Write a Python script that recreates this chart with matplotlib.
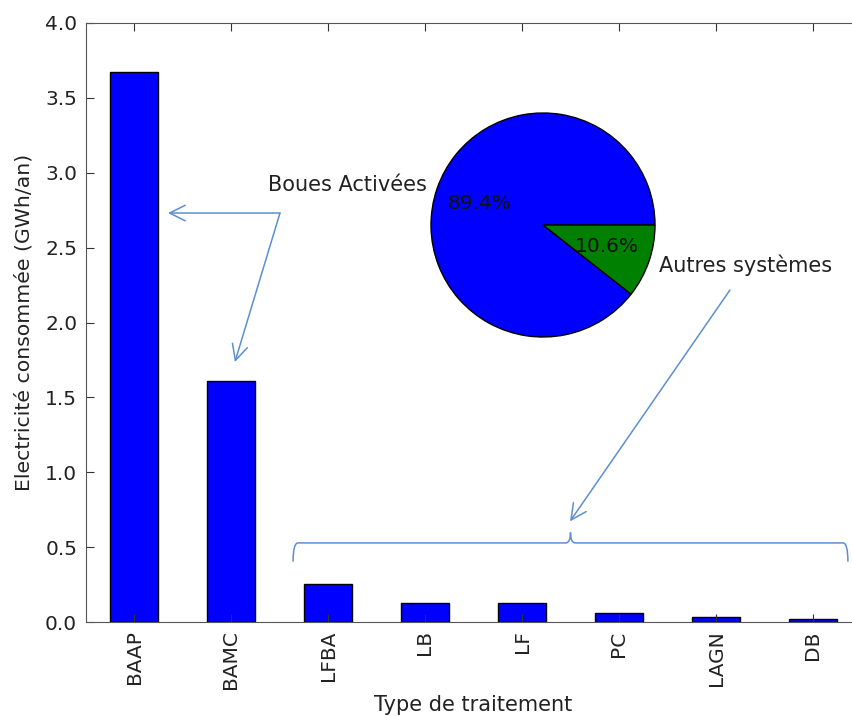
import matplotlib
matplotlib.use('Agg')
import matplotlib.pyplot as plt
from matplotlib.path import Path
from matplotlib.patches import PathPatch

# consommation electrique par type de traitement (GWh/an)
types = ['BAAP', 'BAMC', 'LFBA', 'LB', 'LF', 'PC', 'LAGN', 'DB']
conso = [3.673, 1.609, 0.255, 0.128, 0.127, 0.062, 0.033, 0.021]
n_boues = 2  # BAAP et BAMC = boues activees

pie_labels = ['Boues Activées', 'Autres systèmes']
pie_vals = [sum(conso[:n_boues]), sum(conso[n_boues:])]

arrow_col = '#5b8fd0'
fs_tick = 14.5
fs_lab = 15

plt.rcParams['font.family'] = 'DejaVu Sans'

fig = plt.figure(figsize=(8.52, 7.16), dpi=100)
ax = fig.add_axes([85.5 / 852, 94 / 716, 776 / 852, 599 / 716])

x = list(range(len(types)))
ax.bar(x, conso, width=0.5, color='b', edgecolor='k', linewidth=1)
ax.set_xlim(-0.5, len(types) - 0.5)
ax.set_ylim(0, 4.0)
ax.set_xticks(x)
ax.set_xticklabels(types, rotation=90)
ax.set_yticks([0, 0.5, 1.0, 1.5, 2.0, 2.5, 3.0, 3.5, 4.0])
ax.set_yticklabels(['%.1f' % v for v in ax.get_yticks()])
ax.tick_params(direction='in', length=6, top=True, right=True, pad=6,
               labelsize=fs_tick, color='#333333', labelcolor='#222222')
for sp in ax.spines.values():
    sp.set_color('#555555')
ax.set_xlabel('Type de traitement', fontsize=fs_lab, color='#222222',
              labelpad=4)
ax.set_ylabel('Electricité consommée (GWh/an)', fontsize=14.7,
              color='#222222', labelpad=8)

# fleches "Boues Activees"
akw = dict(arrowstyle='->', color=arrow_col, lw=1.1, mutation_scale=28,
           shrinkA=0, shrinkB=0)
ax.annotate('', xy=(0.35, 2.731), xytext=(1.505, 2.731), arrowprops=akw)
ax.annotate('', xy=(1.04, 1.736), xytext=(1.505, 2.731), arrowprops=akw)

# fleche "Autres systemes"
ax.annotate('', xy=(4.495, 0.672), xytext=(6.144, 2.217), arrowprops=akw)


def accolade(ax, x0, x1, y, h, tip, r):
    xm = (x0 + x1) / 2
    verts = [(x0, y - h), (x0, y), (x0 + r, y),
             (xm - r, y), (xm, y), (xm, y + tip),
             (xm, y), (xm + r, y),
             (x1 - r, y), (x1, y), (x1, y - h)]
    codes = [Path.MOVETO, Path.CURVE3, Path.CURVE3,
             Path.LINETO, Path.CURVE3, Path.CURVE3,
             Path.CURVE3, Path.CURVE3,
             Path.LINETO, Path.CURVE3, Path.CURVE3]
    ax.add_patch(PathPatch(Path(verts, codes), fill=False, edgecolor=arrow_col,
                           lw=1.1, clip_on=False))


accolade(ax, 1.64, 7.36, 0.528, 0.125, 0.07, 0.05)

# camembert en incrustation
axp = fig.add_axes([403 / 852, 351 / 716, 280 / 852, 280 / 716])
wedges, texts, autotexts = axp.pie(
    pie_vals, labels=pie_labels, colors=['b', 'g'], autopct='%1.1f%%',
    wedgeprops=dict(edgecolor='k', linewidth=1),
    textprops=dict(fontsize=fs_lab, color='#222222'))
for t in autotexts:
    t.set_fontsize(fs_tick)
    t.set_color('#111111')
axp.set_aspect('equal')

fig.savefig('out.png', dpi=100, facecolor='white')
